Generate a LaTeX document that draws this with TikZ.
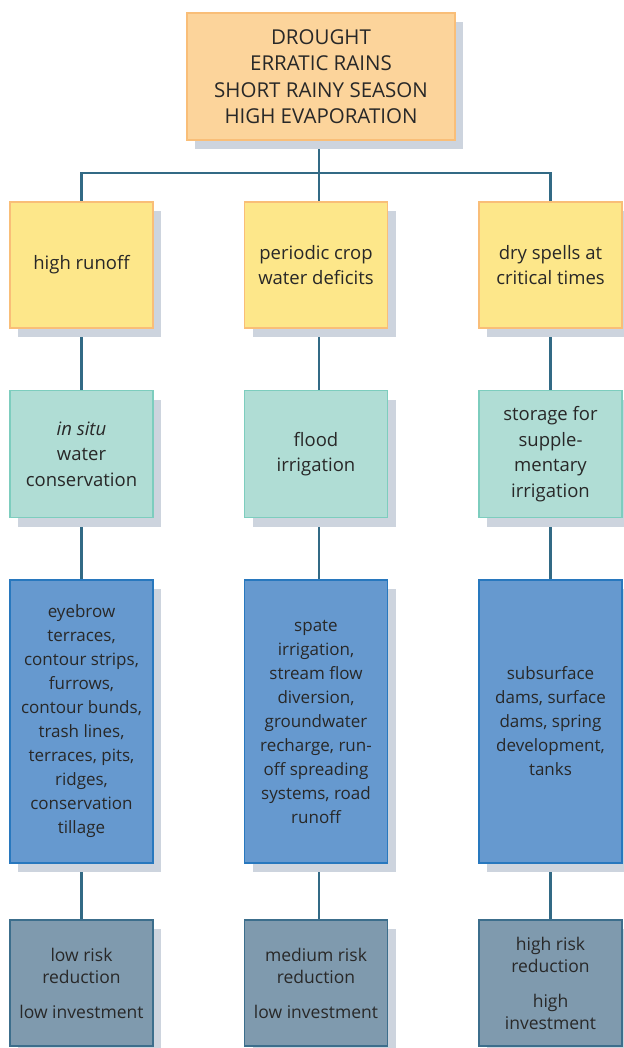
\documentclass[tikz,border=0pt]{standalone}
\usepackage{fontspec}
\setmainfont{Open Sans}
\usetikzlibrary{shadows,backgrounds}
\definecolor{peach}{RGB}{252,212,155}
\definecolor{peachline}{RGB}{249,190,120}
\definecolor{lemon}{RGB}{253,231,138}
\definecolor{aqua}{RGB}{176,221,213}
\definecolor{aqualine}{RGB}{125,205,190}
\definecolor{steel}{RGB}{102,153,207}
\definecolor{steelline}{RGB}{40,120,190}
\definecolor{slate}{RGB}{127,154,174}
\definecolor{slateline}{RGB}{60,110,140}
\definecolor{shade}{RGB}{205,212,222}
\definecolor{wire}{RGB}{50,106,133}
\definecolor{ink}{RGB}{40,40,40}
\tikzset{
  box/.style={draw, line width=1.2pt, align=center, text=ink, minimum width=143, inner sep=2pt,
    font=\fontsize{18.5}{25.5}\selectfont,
    drop shadow={shadow xshift=8pt, shadow yshift=-9pt, opacity=1, fill=shade}},
  causebox/.style={box, fill=peach, draw=peachline, minimum width=268, minimum height=127,
    font=\fontsize{20.5}{26.5}\selectfont},
  problembox/.style={box, fill=lemon, draw=peachline, minimum height=126},
  strategybox/.style={box, fill=aqua, draw=aqualine, minimum height=127},
  methodbox/.style={box, fill=steel, draw=steelline, minimum height=283,
    font=\fontsize{17}{24}\selectfont},
  outcomebox/.style={box, fill=slate, draw=slateline, minimum height=126,
    font=\fontsize{17.5}{22}\selectfont},
  link/.style={draw=wire, line width=2.8pt}
}
\begin{document}
\begin{tikzpicture}[x=1pt,y=1pt]
\useasboundingbox (0,0) rectangle (623,-1048);
% cause
\node [causebox] (cause) at (321,-76.5) {DROUGHT\\ERRATIC RAINS\\SHORT RAINY SEASON\\HIGH EVAPORATION};
\coordinate (split) at (319,-173);
% problems
\node [problembox] (runoff) at (81.5,-265) {high runoff};
\node [problembox] (deficit) at (316,-265) {periodic crop\\water deficits};
\node [problembox] (spells) at (550.5,-265) {dry spells at\\critical times};
% strategies
\node [strategybox] (insitu) at (81.5,-454) {\textit{in situ}\\water\\conservation};
\node [strategybox] (flood) at (316,-454) {flood\\irrigation};
\node [strategybox] (storage) at (550.5,-454) {storage for\\supple-\\mentary\\irrigation};
% methods
\node [methodbox] (terraces) at (81.5,-721.5) {eyebrow\\terraces,\\contour strips,\\furrows,\\contour bunds,\\trash lines,\\terraces, pits,\\ridges,\\conservation\\tillage};
\node [methodbox] (spate) at (316,-721.5) {spate\\irrigation,\\stream flow\\diversion,\\groundwater\\recharge, run-\\off spreading\\systems, road\\runoff};
\node [methodbox] (dams) at (550.5,-721.5) {subsurface\\dams, surface\\dams, spring\\development,\\tanks};
% outcomes
\node [outcomebox] (lowrisk) at (81.5,-983) {low risk\\reduction\\[13pt]low investment};
\node [outcomebox] (medrisk) at (316,-983) {medium risk\\reduction\\[13pt]low investment};
\node [outcomebox] (highrisk) at (550.5,-983) {high risk\\reduction\\[13pt]high\\investment};
% connectors
\begin{scope}[on background layer]
\draw [link] (cause.south -| split) -- (split);
\draw [link] (runoff.north) -- (runoff.north |- split) -- (spells.north |- split) -- (spells.north);
\draw [link] (split) -- (split |- deficit.north);
\draw [link] (runoff) -- (insitu) -- (terraces) -- (lowrisk);
\draw [link] (deficit.south -| split) -- (split |- medrisk.north);
\draw [link] (spells) -- (storage) -- (dams) -- (highrisk);
\end{scope}
\end{tikzpicture}
\end{document}
